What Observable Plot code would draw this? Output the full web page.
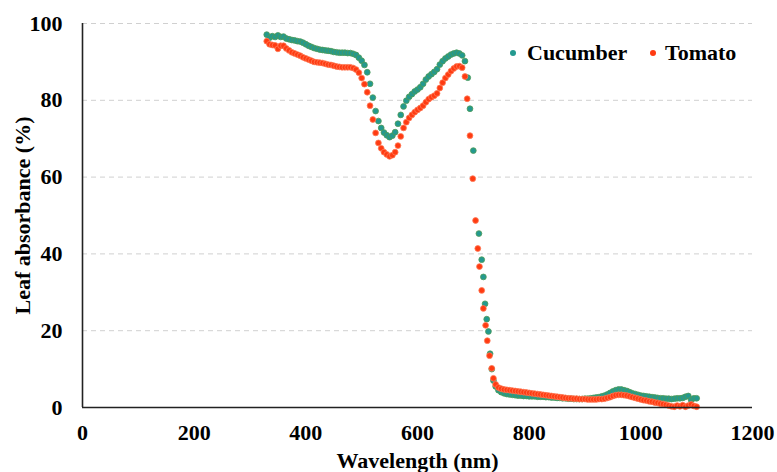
<!DOCTYPE html>
<html><head><meta charset="utf-8">
<script src="https://cdn.jsdelivr.net/npm/d3@7"></script>
<script src="https://cdn.jsdelivr.net/npm/@observablehq/plot@0.6"></script>
<style>
body{margin:0;background:#fff;}
#wrap{position:relative;width:777px;height:472px;background:#fff;}
.leg{position:absolute;top:42px;font:bold 22px "Liberation Serif",serif;line-height:22px;color:#000;white-space:nowrap;}
.dot{position:absolute;width:6px;height:6px;border-radius:50%;top:50px;}
</style></head><body><div id="wrap"></div>
<script>
const seriesNames = ["Cucumber", "Tomato"];
const xTicks = [0, 200, 400, 600, 800, 1000, 1200];
const yTicks = [0, 20, 40, 60, 80, 100];

const cucumberNm = [330,335,340,345,350,355,360,365,370,375,380,385,390,395,400,405,410,415,420,425,430,435,440,445,450,455,460,465,470,475,480,485,490,495,500,505,510,515,520,525,530,535,540,545,550,555,560,565,570,575,580,585,590,595,600,605,610,615,620,625,630,635,640,645,650,655,660,665,670,675,680,685,690,694,700,710,715,718,721,724,727,730,733,736,740,745,
750,755,760,765,770,775,780,785,790,795,800,805,810,815,820,825,830,835,840,845,850,855,860,865,870,875,880,885,890,895,900,905,910,915,920,925,930,935,940,945,950,955,960,965,970,975,980,985,990,995,1000,1005,1010,1015,1020,1025,1030,1035,1040,1045,1050,1055,1060,1065,1070,1075,1080,1085,1090,1095,1100];
const cucumberAbs = [97.1,96.3,96.7,96.5,96.9,96.5,96.6,96.1,95.9,95.7,95.6,95.4,95.3,95.0,94.6,94.2,93.9,93.6,93.4,93.2,93.1,93.0,92.9,92.8,92.6,92.5,92.4,92.4,92.4,92.3,92.3,92.1,91.8,91.1,90.3,89.2,87.3,84.3,80.7,77.2,74.6,72.8,71.6,70.9,70.4,70.8,71.7,73.9,76.2,78.4,79.9,80.9,81.6,82.3,82.8,83.4,84.3,85.4,86.2,86.8,87.4,88.1,89.3,90.2,90.9,91.4,91.9,92.2,92.4,92.2,91.7,90.2,85.9,77.8,66.9,45.3,38.5,34.0,27.0,23.0,19.8,14.0,10.0,7.0,5.5,4.5,
4.0,3.7,3.5,3.4,3.3,3.2,3.1,3.1,3.0,3.0,2.9,2.9,2.9,2.8,2.8,2.8,2.7,2.7,2.6,2.6,2.5,2.5,2.4,2.4,2.3,2.3,2.2,2.2,2.2,2.2,2.3,2.3,2.4,2.5,2.6,2.7,2.9,3.1,3.4,3.8,4.2,4.5,4.7,4.7,4.5,4.3,4.0,3.7,3.5,3.3,3.1,3.0,2.9,2.8,2.7,2.6,2.5,2.4,2.4,2.3,2.3,2.2,2.3,2.4,2.4,2.5,2.8,3.0,2.0,2.4,2.4];

const tomatoNm = [330,335,340,345,350,355,360,365,370,375,380,385,390,395,400,405,410,415,420,425,430,435,440,445,450,455,460,465,470,475,480,485,490,495,500,505,510,515,520,525,530,535,540,545,550,555,560,565,570,575,580,585,590,595,600,605,610,615,620,625,630,635,640,645,650,655,660,665,670,675,680,685,689,694,699,704,708,711,715,718,722,725,729,733,736,740,745,
750,755,760,765,770,775,780,785,790,795,800,805,810,815,820,825,830,835,840,845,850,855,860,865,870,875,880,885,890,895,900,905,910,915,920,925,930,935,940,945,950,955,960,965,970,975,980,985,990,995,1000,1005,1010,1015,1020,1025,1030,1035,1040,1045,1050,1055,1060,1065,1070,1075,1080,1085,1090,1095,1100];
const tomatoAbs = [95.4,94.6,94.4,94.3,93.4,94.2,94.2,93.5,93.0,92.5,92.2,91.9,91.6,91.2,90.9,90.6,90.3,90.0,89.9,89.8,89.7,89.5,89.3,89.2,89.0,88.8,88.7,88.6,88.6,88.6,88.6,88.4,88.0,87.2,85.8,84.2,82.1,78.6,75.0,71.5,68.9,67.5,66.5,65.9,65.4,65.7,66.5,68.2,70.6,72.8,74.3,75.4,76.2,76.9,77.5,78.0,78.6,79.5,80.3,80.8,81.2,81.8,83.2,84.6,85.8,86.7,87.6,88.3,88.8,88.9,88.5,86.2,80.4,70.8,59.6,48.7,41.4,36.7,30.5,25.8,21.4,17.4,13.5,10.2,7.6,6.0,5.2,
4.9,4.7,4.6,4.5,4.4,4.3,4.2,4.1,4.0,3.9,3.8,3.7,3.6,3.5,3.4,3.3,3.2,3.1,3.0,2.9,2.8,2.7,2.6,2.5,2.4,2.4,2.3,2.3,2.2,2.2,2.2,2.1,2.1,2.1,2.1,2.2,2.2,2.3,2.5,2.7,3.0,3.2,3.3,3.3,3.2,3.1,2.9,2.7,2.5,2.3,2.1,1.9,1.8,1.6,1.5,1.3,1.2,1.0,0.9,0.7,0.5,0.3,0.2,0.5,0.3,0.6,0.2,0.5,0.8,0.4,0.2];

const colors = {Cucumber: {fill: "#23998f", stroke: "#4f9a55"}, Tomato: {fill: "#ff3b12", stroke: "#ff7a55"}};

const cucumber = cucumberNm.map((x, i) => ({x, y: cucumberAbs[i]}));
const tomato = tomatoNm.map((x, i) => ({x, y: tomatoAbs[i]}));

const font = '"Liberation Serif", serif';
const plot = Plot.plot({
  width: 777, height: 472,
  marginLeft: 82, marginRight: 25, marginTop: 23, marginBottom: 65,
  style: {fontFamily: font, fontSize: "22px", fontWeight: "bold", color: "#000", background: "#fff", overflow: "visible"},
  x: {domain: [0, 1200]},
  y: {domain: [0, 100]},
  marks: [
    Plot.gridY(yTicks.filter(d => d > 0), {stroke: "#d0d0d0", strokeOpacity: 1, strokeWidth: 1, strokeDasharray: "5,4"}),
    Plot.axisX(xTicks, {tickSize: 0, tickPadding: 17, tickFormat: d3.format("d"), label: null, fontSize: 22, fontWeight: "bold"}),
    Plot.axisY(yTicks, {tickSize: 0, tickPadding: 20, tickFormat: d3.format("d"), label: null, fontSize: 22, fontWeight: "bold"}),
    Plot.text(["Wavelength (nm)"], {frameAnchor: "bottom", dy: 53, lineAnchor: "middle", fontSize: 22, fontWeight: "bold"}),
    Plot.text(["Leaf absorbance (%)"], {frameAnchor: "left", dx: -60, rotate: -90, textAnchor: "middle", lineAnchor: "middle", fontSize: 22, fontWeight: "bold"}),
    Plot.dot(cucumber, {x: "x", y: "y", r: 2.9, fill: colors.Cucumber.fill, stroke: colors.Cucumber.stroke, strokeWidth: 0.8}),
    Plot.dot(tomato, {x: "x", y: "y", r: 2.9, fill: colors.Tomato.fill, stroke: colors.Tomato.stroke, strokeWidth: 0.8}),
    Plot.ruleY([0], {stroke: "#222", strokeWidth: 1.6}),
    Plot.ruleX([0], {stroke: "#222", strokeWidth: 1.6})
  ]
});
const wrap = document.getElementById("wrap");
wrap.appendChild(plot);
// legend
const legendPos = [{dx: 510, tx: 527}, {dx: 650, tx: 665}];
seriesNames.forEach((name, i) => {
  const d = document.createElement("div");
  d.className = "dot";
  d.style.left = legendPos[i].dx + "px";
  d.style.background = colors[name].fill;
  wrap.appendChild(d);
  const t = document.createElement("div");
  t.className = "leg";
  t.style.left = legendPos[i].tx + "px";
  t.textContent = name;
  wrap.appendChild(t);
});
</script></body></html>
